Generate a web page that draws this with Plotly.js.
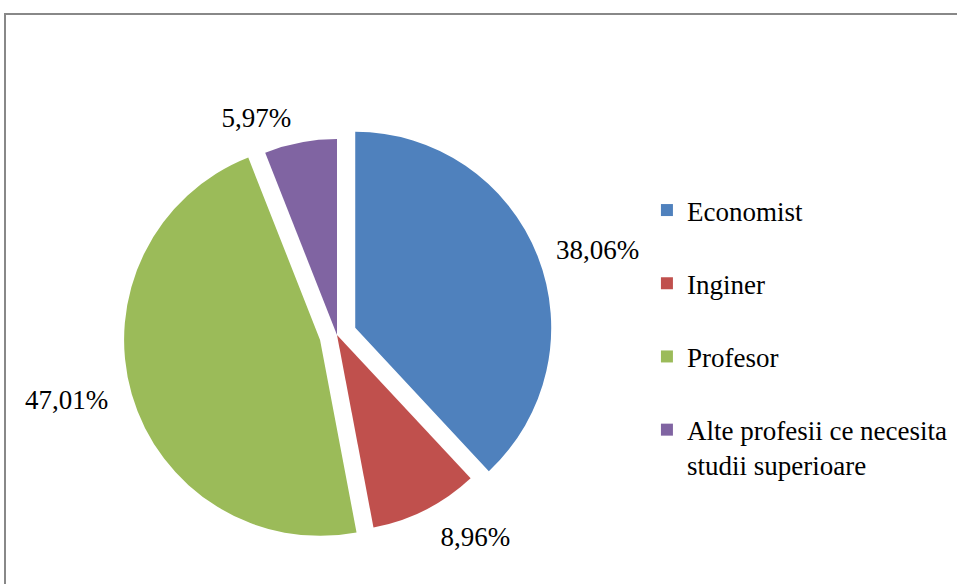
<!DOCTYPE html>
<html>
<head>
<meta charset="utf-8">
<script src="https://cdn.plot.ly/plotly-3.0.1.min.js"></script>
<style>
html,body{margin:0;padding:0;background:#fff;}
#wrap{position:relative;width:957px;height:584px;overflow:hidden;}
#frame{position:absolute;left:4px;top:13px;width:1000px;height:700px;border-left:2px solid #888;border-top:2px solid #888;}
#chart{position:absolute;left:0;top:0;width:957px;height:584px;}
</style>
</head>
<body>
<div id="wrap"><div id="frame"></div><div id="chart"></div></div>
<script>
const categories = ["Economist", "Inginer", "Profesor", "Alte profesii ce necesita<br>studii superioare"];
const legendLabels = ["Economist<br> ", "Inginer<br> ", "Profesor<br> ", "Alte profesii ce necesita<br>studii superioare"];
const shares = [38.06, 8.96, 47.01, 5.97];
const colors = ["#4F81BD", "#C0504D", "#9BBB59", "#8064A2"];
const serif = "'Liberation Serif', 'Times New Roman', Times, serif";

// slices
const slices = {
  type: "pie",
  labels: legendLabels,
  values: shares,
  sort: false,
  direction: "clockwise",
  rotation: 0,
  pull: [0.1, 0, 0.09, 0],
  marker: {colors: colors, line: {width: 0}},
  textinfo: "none",
  automargin: false,
  hoverinfo: "label+value",
  domain: {x: [0.1269, 0.5774], y: [0.0572, 0.7955]}
};

// percentage labels (same circle, transparent slices, labels pushed outward)
const labelsTrace = {
  type: "pie",
  labels: legendLabels,
  values: shares,
  sort: false,
  direction: "clockwise",
  rotation: 0,
  pull: [0.16, 0.085, 0.175, 0.05],
  marker: {colors: ["rgba(0,0,0,0)", "rgba(0,0,0,0)", "rgba(0,0,0,0)", "rgba(0,0,0,0)"], line: {width: 0}},
  texttemplate: "%{value:.2f}%",
  textposition: "outside",
  textfont: {family: serif, size: 27, color: "#000"},
  automargin: false,
  showlegend: false,
  hoverinfo: "skip",
  domain: {x: [0.11149, 0.59279], y: [0.0320, 0.8207]}
};

const layout = {
  width: 957, height: 584,
  margin: {l: 0, r: 0, t: 0, b: 0},
  paper_bgcolor: "rgba(0,0,0,0)",
  plot_bgcolor: "rgba(0,0,0,0)",
  separators: ",.",
  showlegend: true,
  legend: {
    x: 0.676, xanchor: "left", y: 0.6815, yanchor: "top",
    font: {family: serif, size: 27, color: "#000"},
    valign: "top",
    bgcolor: "rgba(0,0,0,0)"
  }
};

Plotly.newPlot("chart", [slices, labelsTrace], layout, {displayModeBar: false, staticPlot: true});
</script>
</body>
</html>
